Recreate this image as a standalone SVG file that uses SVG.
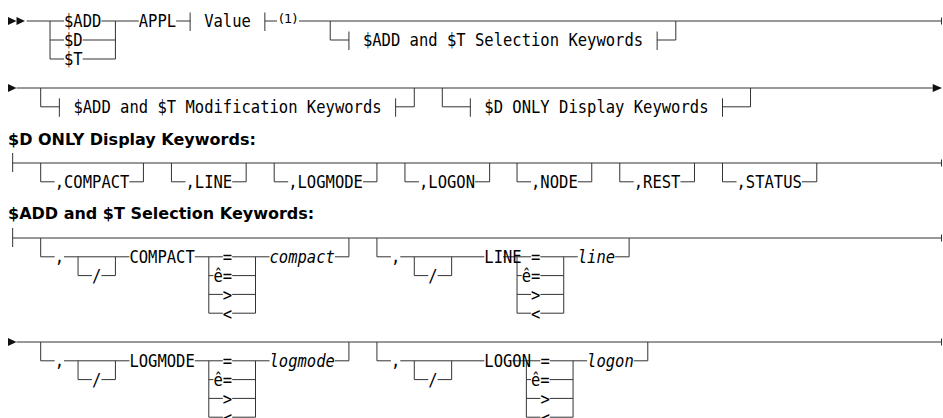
<svg xmlns="http://www.w3.org/2000/svg" width="943" height="418" viewBox="0 0 943 418">
<style>
.m{font-family:"DejaVu Sans Mono","Liberation Mono",monospace;font-size:17.5px;fill:#000}
.i{font-style:italic}
.h{font-family:"DejaVu Sans","Liberation Sans",sans-serif;font-weight:bold;font-size:16px;fill:#000}
.s{font-family:"DejaVu Sans","Liberation Sans",sans-serif;font-size:13px;fill:#000}
.c{fill:none;stroke:#333;stroke-width:1}
.a{fill:#111}
</style>
<rect width="943" height="418" fill="#fff"/>
<g id="connectors">
<path class="c" d="
M26.68 21 H64.04 M101.40 21 H138.76 M176.12 21 H190.13 M190.13 12.5 V31 M264.85 12.5 V31 M264.85 21 H277 M299 21 H941.5 M941.5 17.5 V24.5
M50.03 21 V59 M50.03 40 H64.04 M50.03 59 H64.04 M82.72 40 H115.41 M82.72 59 H115.41 M115.41 21 V59
M330.23 21 V40 H348.91 M348.91 31.5 V50 M657.13 31.5 V50 M657.13 40 H675.81 V21
M16.5 88 H932.66
M40.69 88 V106.8 H59.37 M59.37 98.3 V116.8 M395.61 98.3 V116.8 M395.61 106.8 H414.29 V88
M442.31 88 V106.8 H470.33 M470.33 98.3 V116.8 M722.51 98.3 V116.8 M722.51 106.8 H750.53 V88
M12.67 153 V172 M12.67 163 H941.5 M941.5 159.5 V166.5
M40.69 163 V181.8 H54.70 M129.42 181.8 H143.43 V163
M171.45 163 V181.8 H185.46 M232.16 181.8 H246.17 V163
M274.19 163 V181.8 H288.2 M362.92 181.8 H376.93 V163
M404.95 163 V181.8 H418.96 M475.0 181.8 H489.63 V163
M517.03 163 V181.8 H531.04 M577.74 181.8 H591.75 V163
M619.77 163 V181.8 H633.78 M680.48 181.8 H694.49 V163
M722.51 163 V181.8 H736.52 M801.9 181.8 H816.77 V163
M12.67 228 V247 M12.67 238 H941.5 M941.5 234.5 V241.5
M40.69 238 V256.8 H54.70 M64.04 256.8 H129.42 M78.05 256.8 V275.6 H92.06 M101.40 275.6 H115.41 V256.8
M194.80 256.8 H222.82 M232.16 256.8 H269.52 M208.81 256.8 V313.2 M255.51 256.8 V313.2
M208.81 275.6 H213.48 M232.16 275.6 H255.51 M208.81 294.4 H222.82 M232.16 294.4 H255.51 M208.81 313.2 H222.82 M232.16 313.2 H255.51
M334.90 256.8 H348.91 V238
M376.93 238 V256.8 H390.94 M400.28 256.8 H484.34 M414.29 256.8 V275.6 H428.30 M437.64 275.6 H451.65 V256.8
M503.02 256.8 H531.04 M540.38 256.8 H577.74 M517.03 256.8 V313.2 M563.73 256.8 V313.2
M517.03 275.6 H521.70 M540.38 275.6 H563.73 M517.03 294.4 H531.04 M540.38 294.4 H563.73 M517.03 313.2 H531.04 M540.38 313.2 H563.73
M615.10 256.8 H629.11 V238
M16.5 342 H941.5 M941.5 338.5 V345.5
M40.69 342 V360.8 H54.70 M64.04 360.8 H129.42 M78.05 360.8 V379.6 H92.06 M101.40 379.6 H115.41 V360.8
M194.80 360.8 H222.82 M232.16 360.8 H269.52 M208.81 360.8 V417.2 M255.51 360.8 V417.2
M208.81 379.6 H213.48 M232.16 379.6 H255.51 M208.81 398.4 H222.82 M232.16 398.4 H255.51 M208.81 417.2 H222.82 M232.16 417.2 H255.51
M334.90 360.8 H348.91 V342
M376.93 342 V360.8 H390.94 M400.28 360.8 H484.34 M414.29 360.8 V379.6 H428.30 M437.64 379.6 H451.65 V360.8
M512.36 360.8 H540.38 M549.72 360.8 H587.08 M526.37 360.8 V417.2 M573.07 360.8 V417.2
M526.37 379.6 H531.04 M549.72 379.6 H573.07 M526.37 398.4 H540.38 M549.72 398.4 H573.07 M526.37 417.2 H540.38 M549.72 417.2 H573.07
M633.78 360.8 H647.79 V342"/>
<polygon class="a" points="8,17 8,25 16.5,21"/>
<polygon class="a" points="16.5,17 16.5,25 25,21"/>
<polygon class="a" points="8,84 8,92 16.5,88"/>
<polygon class="a" points="932.66,84 932.66,92 942,88"/>
<polygon class="a" points="8,338 8,346 16.5,342"/>
</g>
<g id="row1">
<text class="m" x="64.04" y="27.4" textLength="37.36" lengthAdjust="spacingAndGlyphs">$ADD</text>
<text class="m" x="64.04" y="46.4" textLength="18.68" lengthAdjust="spacingAndGlyphs">$D</text>
<text class="m" x="64.04" y="65.4" textLength="18.68" lengthAdjust="spacingAndGlyphs">$T</text>
<text class="m" x="138.76" y="27.4" textLength="37.36" lengthAdjust="spacingAndGlyphs">APPL</text>
<text class="m" x="204.14" y="27.4" textLength="46.7" lengthAdjust="spacingAndGlyphs">Value</text>
<text class="s" x="279" y="23">(1)</text>
<text class="m" x="362.92" y="46.4" textLength="280.2" lengthAdjust="spacingAndGlyphs">$ADD and $T Selection Keywords</text>
</g>
<g id="row2">
<text class="m" x="73.38" y="113.2" textLength="308.22" lengthAdjust="spacingAndGlyphs">$ADD and $T Modification Keywords</text>
<text class="m" x="484.34" y="113.2" textLength="224.16" lengthAdjust="spacingAndGlyphs">$D ONLY Display Keywords</text>
</g>
<g id="display-keywords">
<text class="h" x="8" y="145">$D ONLY Display Keywords:</text>
<text class="m" x="54.70" y="188.2" textLength="74.72" lengthAdjust="spacingAndGlyphs">,COMPACT</text>
<text class="m" x="185.46" y="188.2" textLength="46.7" lengthAdjust="spacingAndGlyphs">,LINE</text>
<text class="m" x="288.2" y="188.2" textLength="74.72" lengthAdjust="spacingAndGlyphs">,LOGMODE</text>
<text class="m" x="418.96" y="188.2" textLength="56.04" lengthAdjust="spacingAndGlyphs">,LOGON</text>
<text class="m" x="531.04" y="188.2" textLength="46.7" lengthAdjust="spacingAndGlyphs">,NODE</text>
<text class="m" x="633.78" y="188.2" textLength="46.7" lengthAdjust="spacingAndGlyphs">,REST</text>
<text class="m" x="736.52" y="188.2" textLength="65.38" lengthAdjust="spacingAndGlyphs">,STATUS</text>
</g>
<g id="selection-keywords">
<text class="h" x="8" y="219">$ADD and $T Selection Keywords:</text>
<text class="m" x="54.70" y="263.2" textLength="9.34" lengthAdjust="spacingAndGlyphs">,</text>
<text class="m" x="92.06" y="282" textLength="9.34" lengthAdjust="spacingAndGlyphs">/</text>
<text class="m" x="129.42" y="263.2" textLength="65.38" lengthAdjust="spacingAndGlyphs">COMPACT</text>
<text class="m" x="222.82" y="263.2" textLength="9.34" lengthAdjust="spacingAndGlyphs">=</text>
<text class="m" x="213.48" y="282" textLength="18.68" lengthAdjust="spacingAndGlyphs">ê=</text>
<text class="m" x="222.82" y="300.8" textLength="9.34" lengthAdjust="spacingAndGlyphs">&gt;</text>
<text class="m" x="222.82" y="319.6" textLength="9.34" lengthAdjust="spacingAndGlyphs">&lt;</text>
<text class="m i" x="269.52" y="263.2" textLength="65.38" lengthAdjust="spacingAndGlyphs">compact</text>
<text class="m" x="390.94" y="263.2" textLength="9.34" lengthAdjust="spacingAndGlyphs">,</text>
<text class="m" x="428.30" y="282" textLength="9.34" lengthAdjust="spacingAndGlyphs">/</text>
<text class="m" x="484.34" y="263.2" textLength="37.36" lengthAdjust="spacingAndGlyphs">LINE</text>
<text class="m" x="531.04" y="263.2" textLength="9.34" lengthAdjust="spacingAndGlyphs">=</text>
<text class="m" x="521.70" y="282" textLength="18.68" lengthAdjust="spacingAndGlyphs">ê=</text>
<text class="m" x="531.04" y="300.8" textLength="9.34" lengthAdjust="spacingAndGlyphs">&gt;</text>
<text class="m" x="531.04" y="319.6" textLength="9.34" lengthAdjust="spacingAndGlyphs">&lt;</text>
<text class="m i" x="577.74" y="263.2" textLength="37.36" lengthAdjust="spacingAndGlyphs">line</text>
</g>
<g id="selection-keywords-cont">
<text class="m" x="54.70" y="367.2" textLength="9.34" lengthAdjust="spacingAndGlyphs">,</text>
<text class="m" x="92.06" y="386" textLength="9.34" lengthAdjust="spacingAndGlyphs">/</text>
<text class="m" x="129.42" y="367.2" textLength="65.38" lengthAdjust="spacingAndGlyphs">LOGMODE</text>
<text class="m" x="222.82" y="367.2" textLength="9.34" lengthAdjust="spacingAndGlyphs">=</text>
<text class="m" x="213.48" y="386" textLength="18.68" lengthAdjust="spacingAndGlyphs">ê=</text>
<text class="m" x="222.82" y="404.8" textLength="9.34" lengthAdjust="spacingAndGlyphs">&gt;</text>
<text class="m" x="222.82" y="423.6" textLength="9.34" lengthAdjust="spacingAndGlyphs">&lt;</text>
<text class="m i" x="269.52" y="367.2" textLength="65.38" lengthAdjust="spacingAndGlyphs">logmode</text>
<text class="m" x="390.94" y="367.2" textLength="9.34" lengthAdjust="spacingAndGlyphs">,</text>
<text class="m" x="428.30" y="386" textLength="9.34" lengthAdjust="spacingAndGlyphs">/</text>
<text class="m" x="484.34" y="367.2" textLength="46.7" lengthAdjust="spacingAndGlyphs">LOGON</text>
<text class="m" x="540.38" y="367.2" textLength="9.34" lengthAdjust="spacingAndGlyphs">=</text>
<text class="m" x="531.04" y="386" textLength="18.68" lengthAdjust="spacingAndGlyphs">ê=</text>
<text class="m" x="540.38" y="404.8" textLength="9.34" lengthAdjust="spacingAndGlyphs">&gt;</text>
<text class="m" x="540.38" y="423.6" textLength="9.34" lengthAdjust="spacingAndGlyphs">&lt;</text>
<text class="m i" x="587.08" y="367.2" textLength="46.7" lengthAdjust="spacingAndGlyphs">logon</text>
</g>
</svg>
